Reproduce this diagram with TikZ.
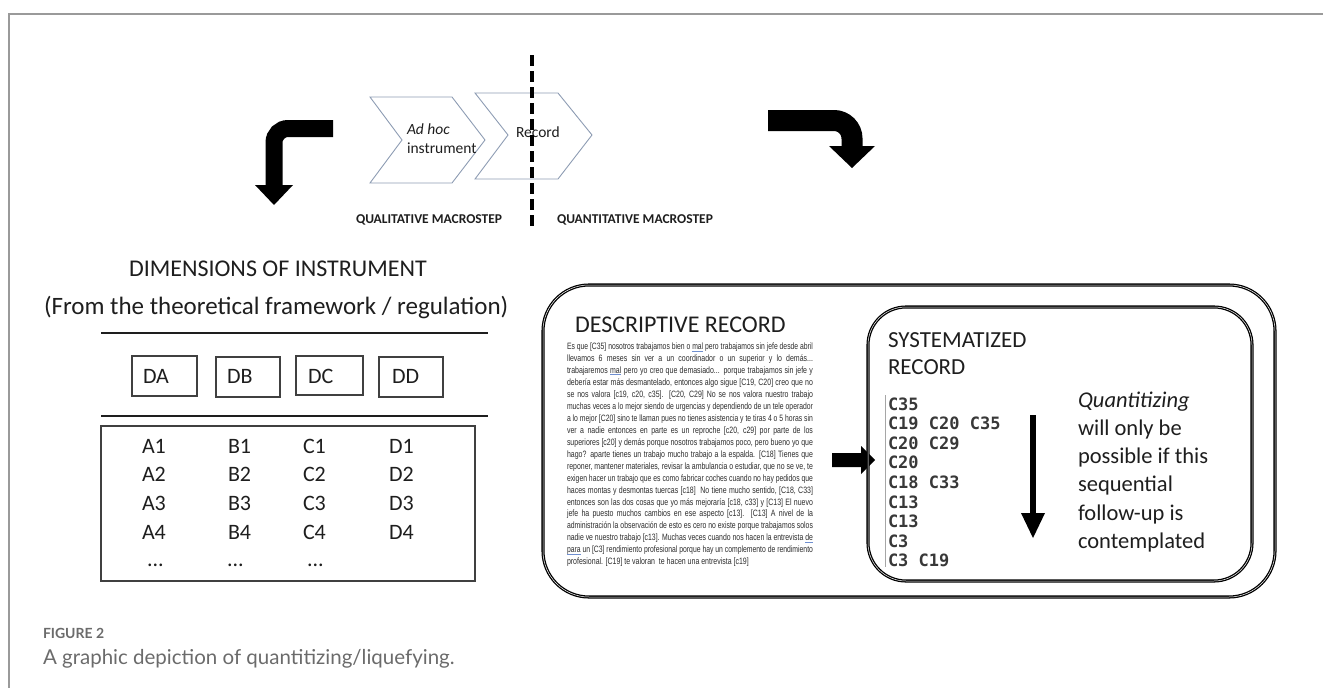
\documentclass[tikz,border=0pt]{standalone}
\usepackage{fontspec}
\usepackage{graphicx}
\setmainfont{Carlito}
\newfontfamily\monofont{DejaVu Sans Mono}
\newfontfamily\narrowfont[FakeStretch=0.76]{Liberation Sans}
\newfontfamily\capfont{Lato}

\definecolor{framegray}{HTML}{9A9A9A}
\definecolor{chevron}{HTML}{8D9CB3}
\definecolor{ink}{HTML}{1E1E1E}
\definecolor{prose}{HTML}{2C2C2C}
\definecolor{codeink}{HTML}{383838}
\definecolor{ulblue}{HTML}{6F8FD0}
\definecolor{captiongray}{HTML}{6B6B6B}

% justified line of fixed width: stretch the spaces, or squeeze if too long
\newlength\jw
\setlength\jw{246pt}
\newsavebox\jbox
\newcommand\jline[1]{\sbox\jbox{#1}%
  \ifdim\wd\jbox>\jw\resizebox{\jw}{\height}{\usebox\jbox}\else\makebox[\jw][s]{#1}\fi}
% word with a blue proofing underline
\newcommand\bul[1]{\setbox0\hbox{#1}\rlap{\color{ulblue}\rule[-1.4pt]{\wd0}{0.5pt}}#1}

\begin{document}
\begin{tikzpicture}[x=1pt,y=-1pt,
  every node/.style={inner sep=0pt, outer sep=0pt, text=ink},
  chev/.style={draw=chevron, line width=0.9pt},
  dimbox/.style={draw=ink!85, line width=1.3pt},
  hrule/.style={draw=ink, line width=1.8pt},
  recbox/.style={draw=black, line width=1.3pt, double=white, double distance=0.5pt},
  titletext/.style={anchor=base west, font=\fontsize{24}{28}\selectfont},
  celltext/.style={anchor=base west, font=\fontsize{22}{26}\selectfont},
  steptext/.style={anchor=base west, font=\fontsize{15.5}{18}\selectfont},
  macrotext/.style={anchor=base west, font=\bfseries\fontsize{13.5}{16}\selectfont},
  codetext/.style={anchor=base west, text=codeink, font=\monofont\bfseries\fontsize{17}{20}\selectfont},
  qtext/.style={anchor=base west, font=\fontsize{22.5}{27}\selectfont}
]
\useasboundingbox (0,0) rectangle (1323,688);

% page frame
\draw[framegray, line width=1.5pt] (1323,14) -- (9,14) -- (9,688);

% ---- top row: the two chevrons and the cut between macrosteps
\draw[chev] (370,97) -- (452,97) -- (485,140) -- (452,183) -- (370,183) -- (402,140) -- cycle;
\draw[chev] (475,93) -- (558,93) -- (592,135) -- (558,179) -- (475,179) -- (508,135) -- cycle;
\node[steptext] (adhoc) at (407,134) {\textit{Ad hoc}};
\node[steptext] (instr) at (407,153) {instrument};
\node[steptext] (record) at (516,137) {Record};

\coordinate (cutTop) at (532,55);
\coordinate (cutBot) at (532,230);
\draw[line width=4.5pt, dash pattern=on 11pt off 5pt] (cutTop) -- (cutBot);

% bent block arrows
\coordinate (qlStart) at (333,128.5);
\coordinate (qlBend) at (274,128.5);
\coordinate (qlEnd) at (274,186);
\draw[line width=17pt, rounded corners=14pt] (qlStart) -- (qlBend) -- (qlEnd);
\fill (255,185) -- (293,185) -- (274,205) -- cycle;

\coordinate (qnStart) at (768,120.5);
\coordinate (qnBend) at (852,120.5);
\coordinate (qnEnd) at (852,147);
\draw[line width=21pt, rounded corners=18pt] (qnStart) -- (qnBend) -- (qnEnd);
\fill (829,146) -- (875,146) -- (852,168) -- cycle;

\node[macrotext] (qual) at (356,223) {QUALITATIVE MACROSTEP};
\node[macrotext] (quant) at (557,223) {QUANTITATIVE MACROSTEP};

% ---- left: dimensions of the instrument
\node[titletext] (dimtitle) at (129,276) {DIMENSIONS OF INSTRUMENT};
\node[anchor=base west, font=\fontsize{25}{29}\selectfont] (dimsub) at (44,314)
  {(From the theoretical framework / regulation)};
\draw[hrule] (101,333) -- (488,333);
\draw[dimbox] (132,356) rectangle (197,396);
\draw[dimbox] (216,357) rectangle (280,397);
\draw[dimbox] (296,356) rectangle (363,395);
\draw[dimbox] (379,357) rectangle (443,397);
\node[celltext] (DA) at (143,383) {DA};
\node[celltext] (DB) at (227,383) {DB};
\node[celltext] (DC) at (308,383) {DC};
\node[celltext] (DD) at (392,383) {DD};
\draw[hrule] (101,416) -- (488,416);
\draw[dimbox] (101,426) rectangle (475,581);
\foreach \col/\cx in {A/142, B/228, C/303, D/389}{
  \foreach \r in {1,2,3,4}{
    \node[celltext] (\col\r) at (\cx,{453+(\r-1)*28.7}) {\col\r};
  }
}
\node[celltext] (moreA) at (147,566) {...};
\node[celltext] (moreB) at (227,566) {...};
\node[celltext] (moreC) at (307,566) {...};

% ---- right: descriptive and systematized records
\draw[recbox, rounded corners=46pt] (543,285) rectangle (1275,597);
\node[titletext] (desctitle) at (575,332) {DESCRIPTIVE RECORD};
\node[anchor=north west, align=left, text=prose,
      font=\narrowfont\fontsize{9.2}{11.95}\selectfont] (desctext) at (567,343) {%
\jline{Es que [C35] nosotros trabajamos bien o \bul{mal} pero trabajamos sin jefe desde abril}\\
\jline{llevamos 6 meses sin ver a un coordinador o un superior y lo demás...}\\
\jline{trabajaremos \bul{mal} pero yo creo que demasiado... porque trabajamos sin jefe y}\\
\jline{debería estar más desmantelado, entonces algo sigue [C19, C20] creo que no}\\
\jline{se nos valora [c19, c20, c35]. [C20, C29] No se nos valora nuestro trabajo}\\
\jline{muchas veces a lo mejor siendo de urgencias y dependiendo de un tele operador}\\
\jline{a lo mejor [C20] sino te llaman pues no tienes asistencia y te tiras 4 o 5 horas sin}\\
\jline{ver a nadie entonces en parte es un reproche [c20, c29] por parte de los}\\
\jline{superiores [c20] y demás porque nosotros trabajamos poco, pero bueno yo que}\\
\jline{hago? aparte tienes un trabajo mucho trabajo a la espalda. [C18] Tienes que}\\
\jline{reponer, mantener materiales, revisar la ambulancia o estudiar, que no se ve, te}\\
\jline{exigen hacer un trabajo que es como fabricar coches cuando no hay pedidos que}\\
\jline{haces montas y desmontas tuercas [c18]\ \ No tiene mucho sentido, [C18, C33]}\\
\jline{entonces son las dos cosas que yo más mejoraría [c18, c33] y [C13] El nuevo}\\
\jline{jefe ha puesto muchos cambios en ese aspecto [c13]. [C13] A nivel de la}\\
\jline{administración la observación de esto es cero no existe porque trabajamos solos}\\
\jline{nadie ve nuestro trabajo [c13]. Muchas veces cuando nos hacen la entrevista \bul{de}}\\
\jline{\bul{para} un [C3] rendimiento profesional porque hay un complemento de rendimiento}\\
profesional. [C19] te valoran\ \ te hacen una entrevista [c19]};

% block arrow into the systematized record
\fill (832,453) -- (861,453) -- (861,446) -- (875,460) -- (861,474) -- (861,467) -- (832,467) -- cycle;

\draw[recbox, rounded corners=38pt] (868,307) rectangle (1252,581);
\node[anchor=base west, font=\fontsize{23}{27}\selectfont] (systitle1) at (888,347) {SYSTEMATIZED};
\node[anchor=base west, font=\fontsize{23}{27}\selectfont] (systitle2) at (888,374) {RECORD};
\draw[black!35, line width=1pt] (885,395) -- (885,567);
\foreach \codeline [count=\i] in {C35, C19 C20 C35, C20 C29, C20, C18 C33, C13, C13, C3, C3 C19}
  \node[codetext] (code\i) at (888,{410+(\i-1)*19.6}) {\codeline};

% sequence arrow
\coordinate (seqTop) at (1033,415);
\coordinate (seqHead) at (1033,515);
\draw[line width=6pt] (seqTop) -- (seqHead);
\fill (1021,513) -- (1045,513) -- (1033,538) -- cycle;

\foreach \qline [count=\i] in {\textit{Quantitizing}, will only be, possible if this, sequential, follow-up is, contemplated}
  \node[qtext] (q\i) at (1078,{407+(\i-1)*28.3}) {\qline};

% ---- caption
\node[anchor=base west, text=captiongray, font=\capfont\bfseries\fontsize{14}{16}\selectfont] (figlabel) at (43,638) {FIGURE 2};
\node[anchor=base west, text=captiongray, font=\capfont\fontsize{20.5}{24}\selectfont] (figcaption) at (43,664) {A graphic depiction of quantitizing/liquefying.};
\end{tikzpicture}
\end{document}
